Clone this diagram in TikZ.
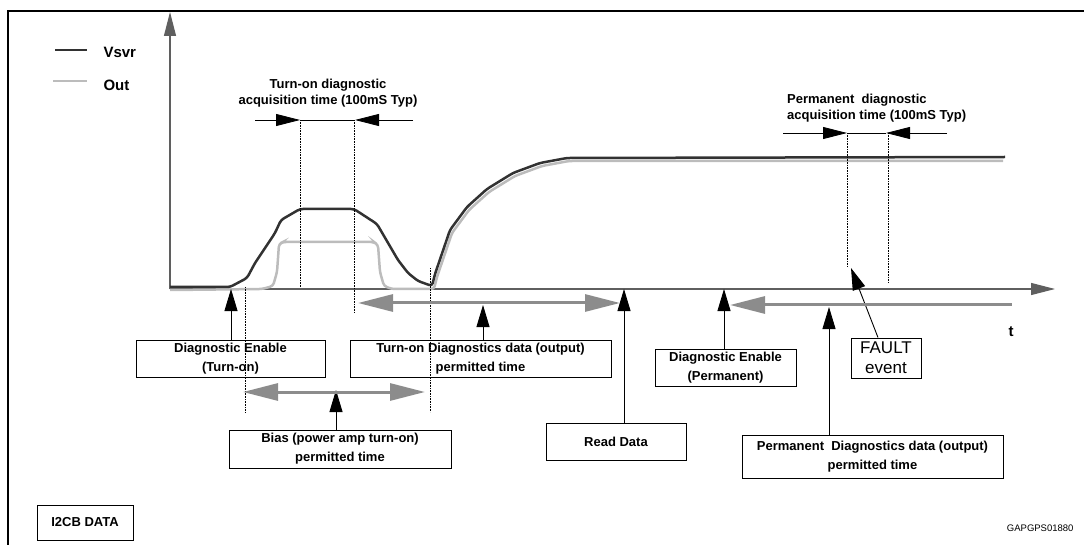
\documentclass[tikz,border=0pt]{standalone}
\usepackage{fontspec}
\setmainfont{Liberation Sans}
\usepackage{tikz}
\usetikzlibrary{arrows.meta,positioning}

\definecolor{vsvrcol}{RGB}{50,50,50}
\definecolor{outcol}{RGB}{188,188,188}
\definecolor{spancol}{RGB}{140,140,140}
\definecolor{axiscol}{RGB}{95,95,95}

\begin{document}
\begin{tikzpicture}[x=1pt,y=-1pt,
    box/.style={draw,line width=0.9pt,align=center,inner sep=0pt,
        font=\fontsize{13}{19}\selectfont\bfseries},
    note/.style={align=center,inner sep=0pt,font=\fontsize{13}{16}\selectfont\bfseries},
    axis/.style={draw=axiscol,line width=1.2pt,-{Triangle[length=24pt,width=12pt]}},
    pointer/.style={line width=0.9pt,-{Triangle[length=22pt,width=13pt]}},
    acq/.style={line width=0.8pt,-{Triangle[length=24pt,width=12pt]}},
    span/.style={draw=spancol,line width=3pt,
        {Triangle[length=35pt,width=17pt]}-{Triangle[length=35pt,width=17pt]}},
    guide/.style={densely dotted,line width=0.6pt},
    vsvr/.style={draw=vsvrcol,line width=2.5pt,rounded corners=3pt},
    outsig/.style={draw=outcol,line width=2.5pt,rounded corners=3pt}
]
\useasboundingbox (0,0) rectangle (1084,545);
\draw[line width=2pt] (8,545) -- (8,11) -- (1084,11);

\coordinate (origin) at (170,289);
\coordinate (ytop) at (170,12);
\coordinate (xend) at (1055,289);
\draw[axis] (origin) -- (ytop);
\draw[axis] (origin) -- (xend);

\draw[draw=vsvrcol,line width=2.5pt] (55,50) -- (87,50);
\node[anchor=west,font=\fontsize{15}{17}\selectfont\bfseries] (legv) at (100,52) {Vsvr};
\draw[draw=outcol,line width=2.5pt] (53,81) -- (87,81);
\node[anchor=west,font=\fontsize{15}{17}\selectfont\bfseries] (lego) at (100,85) {Out};

\draw[outsig] (170,290) -- (262,289) -- (273,286) -- (277,272) -- (279,244) -- (283,242)
    -- (374,242) -- (378,245) -- (380,272) -- (384,286) -- (392,289) -- (434,289)
    -- (437,277) -- (452,233) -- (469,210) -- (489,192) -- (515,176) -- (542,166)
    -- (569,161) -- (1003,161);
\draw[vsvr] (170,287) -- (230,287) -- (247,278) -- (255,263) -- (275,233) -- (281,220)
    -- (300,209) -- (354,209) -- (377,224) -- (398,260) -- (408,273) -- (418,281)
    -- (432,286) -- (435,274) -- (450,230) -- (467,207) -- (487,189) -- (513,173)
    -- (540,163) -- (567,158) -- (1005,157);

\draw[guide] (300,120) -- (300,287);
\draw[guide] (354,120) -- (354,313);
\draw[guide] (245,287) -- (245,413);
\draw[guide] (430,268) -- (430,412);
\draw[guide] (847,133) -- (847,267);
\draw[guide] (888,133) -- (888,283);

\node[note] (acqon) at (328,93) {Turn-on diagnostic\\acquisition time (100mS Typ)};
\draw[line width=0.8pt] (300,120) -- (354,120);
\draw[acq] (255,120) -- (300,120);
\draw[acq] (413,120) -- (355,120);

\node[note,align=left,anchor=north west] (acqperm) at (787,94) {Permanent\ \ diagnostic\\acquisition time (100mS Typ)};
\draw[line width=0.8pt] (847,133) -- (886,133);
\draw[acq] (783,133) -- (847,133);
\draw[acq] (947,133) -- (886,133);

\node[box,minimum width=189pt,minimum height=37pt] (enon) at (230.5,358.5) {Diagnostic Enable\\(Turn-on)};
\node[box,minimum width=261pt,minimum height=37pt] (ondata) at (480.5,358.5) {Turn-on Diagnostics data (output)\\permitted time};
\node[box,minimum width=222pt,minimum height=38pt] (bias) at (340,449) {Bias (power amp turn-on)\\permitted time};
\node[box,minimum width=140pt,minimum height=37pt] (readdata) at (616,441.5) {Read Data};
\node[box,minimum width=141pt,minimum height=37pt] (enperm) at (725.5,367.5) {Diagnostic Enable\\(Permanent)};
\node[box,minimum width=70pt,minimum height=40pt,font=\fontsize{17}{20}\selectfont] (fault) at (886,358) {FAULT\\event};
\node[box,minimum width=261pt,minimum height=43pt] (permdata) at (872.5,456.5) {Permanent\ \ Diagnostics data (output)\\permitted time};
\node[box,minimum width=96pt,minimum height=35pt] (i2cb) at (85,522.5) {I2CB DATA};

\node[font=\fontsize{15}{17}\selectfont\bfseries] (tlabel) at (1011,332) {t};
\node[anchor=east,font=\fontsize{9.5}{11}\selectfont] (figid) at (1077,528) {GAPGPS01880};

\coordinate (ontip) at (231,289);
\coordinate (ondtip) at (483,305);
\coordinate (biastip) at (336,390);
\coordinate (readtip) at (624,289);
\coordinate (permtip) at (724,289);
\coordinate (pdtip) at (829,307);
\coordinate (faulttip) at (851,268);

\draw[pointer] (enon.north -| ontip) -- (ontip);
\draw[pointer] (ondata.north -| ondtip) -- (ondtip);
\draw[pointer] (bias.north -| biastip) -- (biastip);
\draw[pointer] (readdata.north -| readtip) -- (readtip);
\draw[pointer] (enperm.north -| permtip) -- (permtip);
\draw[pointer] (permdata.north -| pdtip) -- (pdtip);
\draw[pointer] ([xshift=-8pt]fault.north) -- (faulttip);

\coordinate (onl) at (358,303);
\coordinate (onr) at (620,303);
\coordinate (biasl) at (243,392);
\coordinate (biasr) at (425,392);
\coordinate (perml) at (730,305);
\coordinate (permr) at (1012,305);
\draw[span] (onl) -- (onr);
\draw[span] (biasl) -- (biasr);
\draw[span,{Triangle[length=35pt,width=17pt]}-] (perml) -- (permr);
\end{tikzpicture}
\end{document}
